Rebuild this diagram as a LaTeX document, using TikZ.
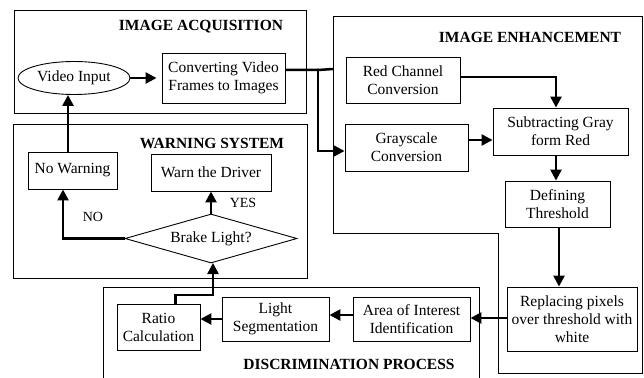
\documentclass[tikz,border=0pt]{standalone}
\usepackage{fontspec}
\setmainfont{Liberation Serif}
\usetikzlibrary{shapes.geometric,arrows.meta}
\tikzset{
  box/.style={draw,line width=0.9pt,align=center,inner sep=1pt,font=\fontsize{15.5}{18}\selectfont},
  grp/.style={draw,line width=0.9pt},
  ttl/.style={font=\fontsize{15.5}{18}\selectfont\bfseries,inner sep=0pt},
  lbl/.style={font=\fontsize{14}{16}\selectfont,inner sep=0pt},
  arr/.style={line width=2.5pt,-{Triangle[length=11pt,width=11pt]}},
  ln/.style={line width=2.5pt}
}
\begin{document}
\begin{tikzpicture}[x=1pt,y=-1pt]
\clip (0,0) rectangle (644,377);
\fill[white] (0,0) rectangle (644,377);
% group boxes
\draw[grp] (14,10) rectangle (306,113);
\draw[grp] (13,124) rectangle (307,278);
\draw[grp] (333,16) -- (642,16) -- (642,373) -- (498,373) -- (498,233) -- (333,233) -- cycle;
\draw[grp] (103,390) -- (103,287) -- (479,287) -- (479,390);
\node[ttl] (tacq) at (201,27) {IMAGE ACQUISITION};
\node[ttl] (twarn) at (212,143) {WARNING SYSTEM};
\node[ttl] (tenh) at (530,37) {IMAGE ENHANCEMENT};
\node[ttl] (tdisc) at (349,364) {DISCRIMINATION PROCESS};
% nodes
\node[box,ellipse,minimum width=112pt,minimum height=33pt,inner sep=0pt] (video) at (74,78) {Video Input};
\node[box,minimum width=123pt,minimum height=50pt] (conv) at (223.5,78) {Converting Video\\Frames to Images};
\node[box,minimum width=114pt,minimum height=46pt] (red) at (403,80) {Red Channel\\Conversion};
\node[box,minimum width=123pt,minimum height=47pt] (gray) at (406.5,147.5) {Grayscale\\Conversion};
\node[box,minimum width=135pt,minimum height=47pt] (sub) at (560.5,131.5) {Subtracting Gray\\form Red};
\node[box,minimum width=105pt,minimum height=46pt] (def) at (557.5,204) {Defining\\Threshold};
\node[box,minimum width=130pt,minimum height=64pt] (rep) at (572,319) {Replacing pixels\\over threshold with\\white};
\node[box,minimum width=117pt,minimum height=44pt] (area) at (411.5,319) {Area of Interest\\Identification};
\node[box,minimum width=107pt,minimum height=44pt] (light) at (275.5,319) {Light\\Segmentation};
\node[box,minimum width=83pt,minimum height=46pt] (ratio) at (158.5,327) {Ratio\\Calculation};
\node[box,diamond,aspect=3.5,minimum width=172pt,minimum height=49pt,inner sep=0pt] (brake) at (211,238.5) {Brake Light?};
\node[box,minimum width=89pt,minimum height=37pt] (nowarn) at (72.5,170.5) {No Warning};
\node[box,minimum width=120pt,minimum height=37pt] (warn) at (211,172.5) {Warn the Driver};
\node[lbl] (yes) at (243,203) {YES};
\node[lbl] (no) at (93,217) {NO};
% connectors
\coordinate (j) at (318,70);
\draw[arr] (video.east) -- ([xshift=-5pt]conv.west);
\draw[ln] ([yshift=8pt]conv.east) -- (j) -- (333,69);
\fill (j) circle (1.6pt);
\draw[arr] (j) |- ([yshift=-3.5pt]gray.west);
\draw[arr] ([yshift=3pt]red.east) -| ([xshift=-4.5pt]sub.north);
\draw[arr] ([yshift=7.5pt]gray.east) -- ([yshift=7.5pt]gray.east -| sub.west);
\draw[arr] ([xshift=-4.5pt]sub.south) -- ([xshift=-4.5pt]sub.south |- def.north);
\draw[arr] ([xshift=1.5pt]def.south) -- ([xshift=1.5pt]def.south |- rep.north);
\draw[arr] ([yshift=1pt]rep.west) -- ([yshift=1pt]rep.west -| area.east);
\draw[arr] ([yshift=4pt]area.west) -- ([yshift=4pt]area.west -| light.east);
\draw[arr] (light.west) -- (light.west -| ratio.east);
\draw[arr] ([xshift=17pt]ratio.north) |- (213,295) -- (213,263);
\draw[arr] (brake.north) -- (warn.south);
\draw[arr] (brake.west) -| ([xshift=-9.5pt]nowarn.south);
\draw[arr] ([xshift=-4.5pt]nowarn.north) -- ([xshift=-4.5pt]nowarn.north |- video.south);
\end{tikzpicture}
\end{document}
